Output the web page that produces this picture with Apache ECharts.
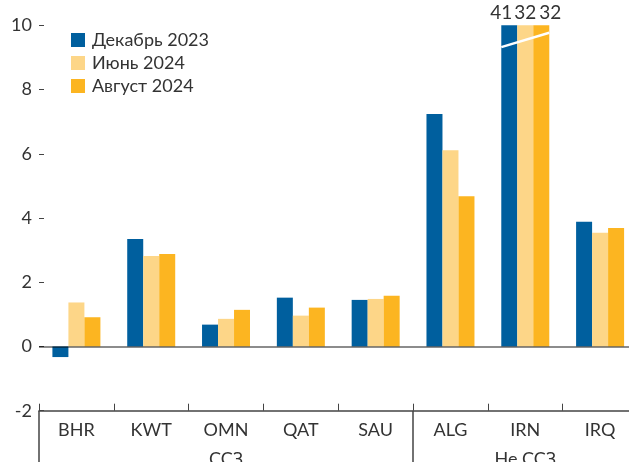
<!DOCTYPE html>
<html>
<head>
<meta charset="utf-8">
<script src="https://cdn.jsdelivr.net/npm/echarts@6/dist/echarts.min.js"></script>
<style>
  html, body { margin: 0; padding: 0; background: #fff; }
  #chart { width: 629px; height: 462px; }
</style>
</head>
<body>
<div id="chart"></div>
<script>
// data
const countries = ['BHR', 'KWT', 'OMN', 'QAT', 'SAU', 'ALG', 'IRN', 'IRQ'];
const groupNames = ['ССЗ', 'Не ССЗ'];
const groupCenters = [2.5, 6.5];   // in category units
const groupEdges = [0, 5];
const seriesNames = ['Декабрь 2023', 'Июнь 2024', 'Август 2024'];
const dec2023 = [-0.33, 3.35, 0.68, 1.52, 1.45, 7.24, 41, 3.88];
const jun2024 = [1.37, 2.82, 0.86, 0.96, 1.48, 6.11, 32, 3.54];
const aug2024 = [0.91, 2.88, 1.14, 1.21, 1.58, 4.68, 32, 3.69];
const yTicks = [-2, 0, 2, 4, 6, 8, 10];

const colors = ['#005f9e', '#fdd688', '#fcb521'];
const FONT = 'Lato, "Noto Sans", sans-serif';
const TXT = '#333333';
const capIdx = countries.indexOf('IRN');  // bars cut at the top of the axis
const labelShift = [-8, 0, 9];

const chartDom = document.getElementById('chart');
const myChart = echarts.init(chartDom);

function makeSeries(i, values) {
  return {
    name: seriesNames[i],
    type: 'bar',
    barWidth: 16,
    barGap: '0%',
    clip: true,
    itemStyle: { color: colors[i] },
    label: { show: false },
    data: values.map((v, k) => k === capIdx ? {
      value: v,
      label: {
        show: true, position: 'top', distance: 3, offset: [labelShift[i], 0],
        color: TXT, fontSize: 19, fontFamily: FONT, formatter: '{c}'
      }
    } : v)
  };
}

const series = [
  makeSeries(0, dec2023),
  makeSeries(1, jun2024),
  makeSeries(2, aug2024)
];
// zero line
series[2].markLine = {
  silent: true,
  symbol: 'none',
  label: { show: false },
  lineStyle: { color: 'rgba(0,0,0,0.45)', width: 2, type: 'solid' },
  data: [{ yAxis: 0 }]
};

const option = {
  animation: false,
  color: colors,
  textStyle: { fontFamily: FONT },
  legend: {
    orient: 'vertical',
    left: 71, top: 31,
    padding: 0,
    itemWidth: 14, itemHeight: 14, itemGap: 5,
    icon: 'rect',
    textStyle: { color: TXT, fontSize: 18, fontFamily: FONT, padding: [0, 0, 0, 2] },
    data: seriesNames
  },
  grid: {
    left: 39, right: -8.5, top: 25.3, bottom: 51.3,
    containLabel: false, outerBoundsMode: 'none'
  },
  xAxis: [
    {
      type: 'category',
      data: countries,
      position: 'bottom',
      axisLine: { onZero: false, lineStyle: { color: '#444', width: 1.5 } },
      axisTick: { show: true, inside: true, length: 7, interval: 0, lineStyle: { color: '#444' } },
      axisLabel: { color: TXT, fontSize: 18, fontFamily: FONT, margin: 10, interval: 0 }
    },
    {
      type: 'value',
      position: 'bottom',
      min: 0, max: 8,
      axisLine: { show: false, onZero: false },
      splitLine: { show: false },
      axisTick: { show: true, customValues: groupEdges, length: 55, lineStyle: { color: '#444', width: 1.5 } },
      axisLabel: {
        customValues: groupCenters, margin: 39, color: TXT, fontSize: 18, fontFamily: FONT,
        formatter: v => groupNames[groupCenters.indexOf(v)]
      }
    }
  ],
  yAxis: {
    type: 'value',
    min: -2, max: 10, interval: 2,
    axisLine: { show: false },
    splitLine: { show: false },
    axisTick: { show: true, inside: true, length: 5, lineStyle: { color: '#444' } },
    axisLabel: {
      color: TXT, fontSize: 18, fontFamily: FONT, margin: 7,
      customValues: yTicks
    }
  },
  series: series
};

option && myChart.setOption(option);

// white break stroke across the cut IRN bars
const pL = myChart.convertToPixel({ xAxisIndex: 0, yAxisIndex: 0 }, ['IRN', 9.32]);
const pR = myChart.convertToPixel({ xAxisIndex: 0, yAxisIndex: 0 }, ['IRN', 9.77]);
myChart.setOption({
  graphic: [{
    type: 'line',
    z: 100,
    shape: { x1: pL[0] - 24, y1: pL[1], x2: pR[0] + 24, y2: pR[1] },
    style: { stroke: '#ffffff', lineWidth: 2.5 }
  }]
});
</script>
</body>
</html>
